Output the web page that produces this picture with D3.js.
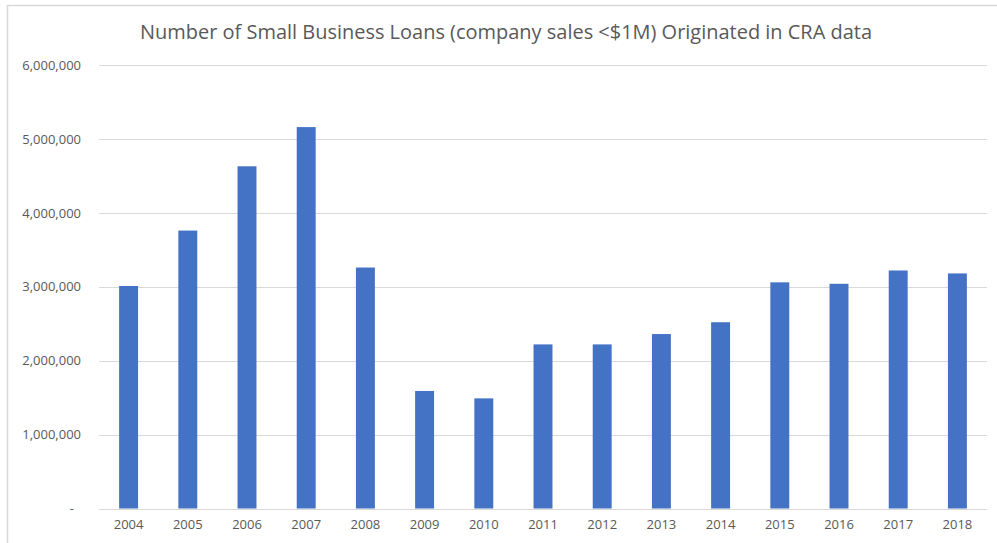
<!DOCTYPE html>
<html>
<head>
<meta charset="utf-8">
<script src="https://cdn.jsdelivr.net/npm/d3@7"></script>
<style>
  html, body { margin: 0; padding: 0; background: #fff; }
  svg { display: block; }
</style>
</head>
<body>
<svg id="chart" width="997" height="543"></svg>
<script>
const years = ["2004","2005","2006","2007","2008","2009","2010","2011","2012","2013","2014","2015","2016","2017","2018"];
const loans = [3010000, 3760000, 4630000, 5160000, 3260000, 1590000, 1490000, 2220000, 2220000, 2360000, 2520000, 3060000, 3040000, 3220000, 3180000];
const yTicks = [0, 1000000, 2000000, 3000000, 4000000, 5000000, 6000000];
const title = "Number of Small Business Loans (company sales <$1M) Originated in CRA data";

const svg = d3.select("#chart");
const W = 997, H = 543;
const margin = {left: 99, right: 10, top: 65, bottom: 34.5};
const fontFam = "'Open Sans', sans-serif";

// border (right and bottom edges fall outside the picture, as in the reference)
svg.append("rect").attr("x", 7.5).attr("y", 5.5).attr("width", W + 10).attr("height", H + 10)
  .attr("fill", "#fff").attr("stroke", "#d9d9d9").attr("stroke-width", 1.5);

const x = d3.scaleBand().domain(years).range([margin.left, W - margin.right]).paddingInner(0.68).paddingOuter(0.34);
const y = d3.scaleLinear().domain([0, 6000000]).range([H - margin.bottom, margin.top]);

// gridlines
svg.append("g").selectAll("line").data(yTicks.filter(d => d > 0)).join("line")
  .attr("x1", margin.left).attr("x2", W - margin.right)
  .attr("y1", d => Math.round(y(d)) + 0.5).attr("y2", d => Math.round(y(d)) + 0.5)
  .attr("stroke", "#d9d9d9").attr("stroke-width", 1);

// bars
svg.append("g").selectAll("rect").data(loans).join("rect")
  .attr("x", (d, i) => x(years[i]))
  .attr("width", x.bandwidth())
  .attr("y", d => y(d))
  .attr("height", d => y(0) - y(d))
  .attr("fill", "#4472c4");

// x axis
const xAxis = svg.append("g").attr("transform", `translate(0,${Math.round(y(0)) + 0.5})`)
  .call(d3.axisBottom(x).tickSize(0).tickPadding(10));
xAxis.select(".domain").attr("stroke", "#d9d9d9").attr("d", `M${margin.left},0H${W - margin.right}`);
xAxis.selectAll("text").attr("fill", "#595959").style("font-family", fontFam).style("font-size", "13px");

// y axis
const yAxis = svg.append("g").attr("transform", `translate(${margin.left},0)`)
  .call(d3.axisLeft(y).tickValues(yTicks).tickSize(0).tickPadding(18)
    .tickFormat(d => d === 0 ? "-" : d3.format(",")(d)));
yAxis.select(".domain").remove();
yAxis.selectAll("text").attr("fill", "#595959").style("font-family", fontFam).style("font-size", "13px")
  .attr("dx", d => d === 0 ? -7 : 0);

// title
svg.append("text").attr("x", 506).attr("y", 39).attr("text-anchor", "middle")
  .attr("fill", "#595959").style("font-family", fontFam).style("font-size", "20px")
  .attr("textLength", 732).attr("lengthAdjust", "spacingAndGlyphs")
  .text(title);
</script>
</body>
</html>
